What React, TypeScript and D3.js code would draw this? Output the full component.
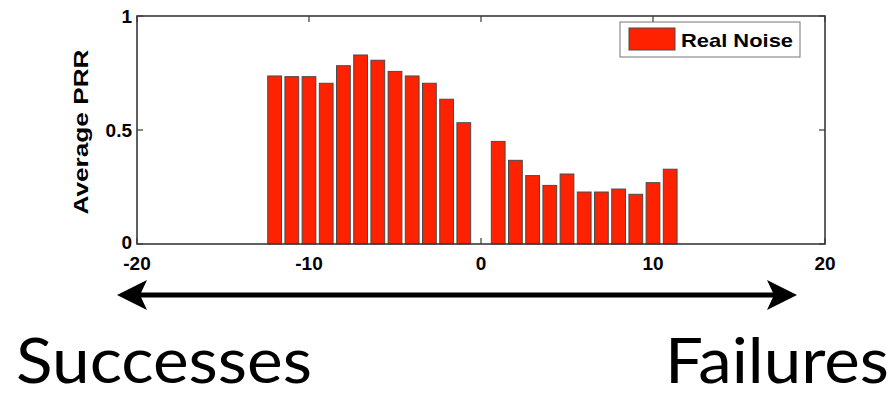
import React from "react";
import * as d3 from "d3";

// Offset from the boundary (bins) and average packet reception ratio per bin
const offsets = [-12, -11, -10, -9, -8, -7, -6, -5, -4, -3, -2, -1, 1, 2, 3, 4, 5, 6, 7, 8, 9, 10, 11];
const avgPrr = [
  0.737, 0.734, 0.734, 0.705, 0.782, 0.829, 0.806, 0.757, 0.737, 0.705, 0.635, 0.532,
  0.45, 0.367, 0.3, 0.257, 0.307, 0.228, 0.228, 0.241, 0.218, 0.269, 0.328,
];
const xTicks = [-20, -10, 0, 10, 20];
const yTicks = [0, 0.5, 1];
const yTickLabels = ["0", "0.5", "1"];
const seriesName = "Real Noise";

const W = 893;
const H = 398;
const plot = { left: 137, right: 825, top: 16, bottom: 244 };
const BAR_RED = "#ff2200";
const AXIS = "#3a3a3a";
const FONT = "'Liberation Sans', Arial, Helvetica, sans-serif";

export default function App() {
  const x = d3.scaleLinear().domain([-20, 20]).range([plot.left, plot.right]);
  const y = d3.scaleLinear().domain([0, 1]).range([plot.bottom, plot.top]);
  const barW = x(0.4) - x(-0.4);
  const tickLen = 6;

  const arrowY = 295;
  const arrowL = 117;
  const arrowR = 797;

  return (
    <svg
      width={W}
      height={H}
      style={{ position: "absolute", left: 0, top: 0, background: "#fff" }}
    >
      <rect x={0} y={0} width={W} height={H} fill="#fff" />

      {/* inward ticks on all four sides */}
      <g stroke={AXIS} strokeWidth={1.2}>
        {xTicks.map((t) => (
          <g key={`xt${t}`}>
            <line x1={x(t)} x2={x(t)} y1={plot.bottom} y2={plot.bottom - tickLen} />
            <line x1={x(t)} x2={x(t)} y1={plot.top} y2={plot.top + tickLen} />
          </g>
        ))}
        {yTicks.map((t) => (
          <g key={`yt${t}`}>
            <line x1={plot.left} x2={plot.left + tickLen} y1={y(t)} y2={y(t)} />
            <line x1={plot.right} x2={plot.right - tickLen} y1={y(t)} y2={y(t)} />
          </g>
        ))}
      </g>

      {/* bars */}
      <g>
        {offsets.map((o, i) => (
          <rect
            key={o}
            x={x(o) - barW / 2}
            y={y(avgPrr[i])}
            width={barW}
            height={y(0) - y(avgPrr[i])}
            fill={BAR_RED}
            stroke="#4a4a4a"
            strokeWidth={1}
          />
        ))}
      </g>

      {/* axes box */}
      <rect
        x={plot.left}
        y={plot.top}
        width={plot.right - plot.left}
        height={plot.bottom - plot.top}
        fill="none"
        stroke={AXIS}
        strokeWidth={1.6}
      />

      {/* tick labels */}
      <g fontFamily={FONT} fontWeight="bold" fontSize={19} fill="#000">
        {xTicks.map((t) => (
          <text key={`xl${t}`} x={x(t)} y={270} textAnchor="middle">
            {t}
          </text>
        ))}
        {yTicks.map((t, i) => (
          <text key={`yl${t}`} x={132} y={y(t) + (t === 0 ? 5 : 7)} textAnchor="end">
            {yTickLabels[i]}
          </text>
        ))}
      </g>

      {/* y axis title */}
      <text
        transform={`translate(88, 132) rotate(-90)`}
        textAnchor="middle"
        fontFamily={FONT}
        fontWeight="bold"
        fontSize={20}
        textLength={165}
        lengthAdjust="spacingAndGlyphs"
        fill="#000"
      >
        Average PRR
      </text>

      {/* legend */}
      <g>
        <rect x={620} y={22} width={180} height={35} fill="#fff" stroke="#777" strokeWidth={1} />
        <rect x={629} y={28} width={46} height={22} fill={BAR_RED} stroke="#4a4a4a" strokeWidth={1} />
        <text
          x={681}
          y={47}
          fontFamily={FONT}
          fontWeight="bold"
          fontSize={19}
          textLength={112}
          lengthAdjust="spacingAndGlyphs"
          fill="#000"
        >
          {seriesName}
        </text>
      </g>

      {/* double-headed arrow */}
      <g fill="#000">
        <line x1={arrowL + 20} x2={arrowR - 20} y1={arrowY} y2={arrowY} stroke="#000" strokeWidth={5} />
        <path
          d={`M${arrowL},${arrowY} L${arrowL + 30},${arrowY - 15} L${arrowL + 23},${arrowY} L${arrowL + 30},${arrowY + 15} Z`}
        />
        <path
          d={`M${arrowR},${arrowY} L${arrowR - 30},${arrowY - 15} L${arrowR - 23},${arrowY} L${arrowR - 30},${arrowY + 15} Z`}
        />
      </g>

      {/* end labels */}
      <g fontFamily="Lato, 'Open Sans', sans-serif" fontSize={62} fill="#000">
        <text x={16} y={383} textLength={296} lengthAdjust="spacingAndGlyphs">
          Successes
        </text>
        <text x={665} y={383} textLength={224} lengthAdjust="spacingAndGlyphs">
          Failures
        </text>
      </g>
    </svg>
  );
}
